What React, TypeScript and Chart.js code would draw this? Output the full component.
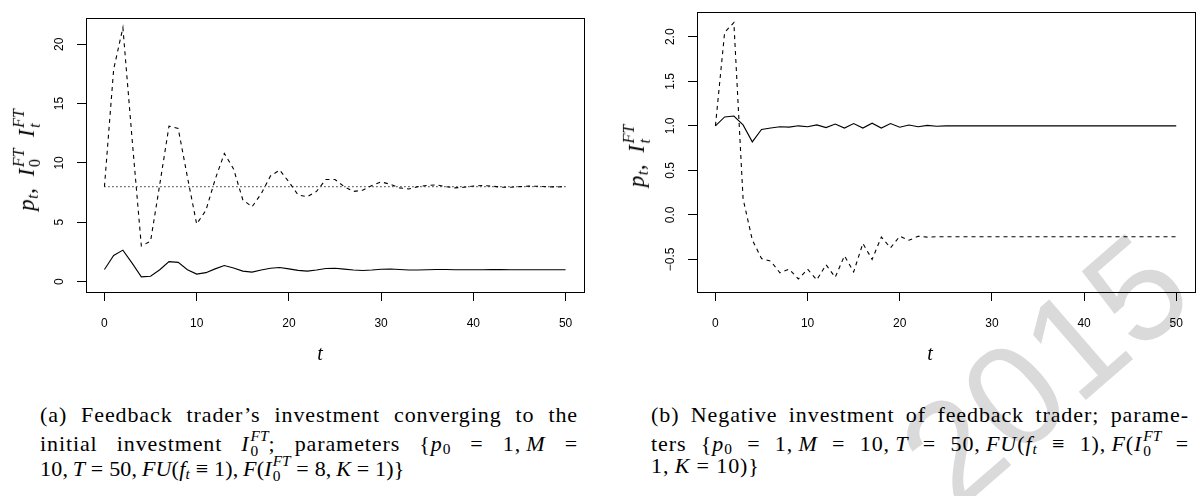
import React, { useEffect, useRef } from 'react';
import Chart from 'chart.js/auto';

// ---------- data ----------
const tValues = [0, 1, 2, 3, 4, 5, 6, 7, 8, 9, 10, 11, 12, 13, 14, 15, 16, 17, 18, 19, 20, 21, 22, 23, 24, 25, 26, 27, 28, 29, 30, 31, 32, 33, 34, 35, 36, 37, 38, 39, 40, 41, 42, 43, 44, 45, 46, 47, 48, 49, 50];

// panel (a): price p_t (solid)
const priceA = [1.02, 2.2, 2.65, 1.55, 0.4, 0.45, 1.0, 1.68, 1.62, 1.0, 0.63, 0.75, 1.07, 1.35, 1.15, 0.88, 0.8, 0.97, 1.12, 1.18, 1.07, 0.94, 0.88, 0.97, 1.1, 1.12, 1.05, 0.97, 0.93, 0.97, 1.04, 1.06, 1.02, 0.98, 0.97, 1.0, 1.02, 1.02, 1.0, 0.99, 0.99, 1.0, 1.01, 1.01, 1.0, 0.99, 1.0, 1.0, 1.0, 1.0, 1.0];
// panel (a): feedback trader investment I_t^FT (dashed)
const investA = [8.0, 17.9, 21.4, 12.0, 3.0, 3.4, 8.2, 13.1, 12.9, 8.8, 4.85, 6.0, 8.6, 10.8, 9.5, 6.9, 6.3, 7.4, 8.9, 9.4, 8.4, 7.3, 7.15, 7.6, 8.6, 8.6, 8.0, 7.6, 7.7, 8.1, 8.4, 8.2, 7.9, 7.8, 8.0, 8.1, 8.15, 8.0, 7.9, 7.95, 8.05, 8.1, 8.05, 7.95, 7.95, 8.0, 8.05, 8.03, 7.98, 7.98, 8.0];
// panel (a): initial investment I_0^FT (dotted)
const initInvestT = [0, 50];
const initInvestA = [8, 8];

// panel (b): price p_t (solid)
const priceB = [1.0, 1.1, 1.11, 1.01, 0.82, 0.96, 0.975, 0.99, 0.985, 1.0, 0.99, 1.01, 0.98, 1.02, 0.975, 1.025, 0.975, 1.03, 0.975, 1.025, 0.985, 1.01, 0.99, 1.005, 0.995, 1.0, 1.0, 1.0, 1.0, 1.0, 1.0, 1.0, 1.0, 1.0, 1.0, 1.0, 1.0, 1.0, 1.0, 1.0, 1.0, 1.0, 1.0, 1.0, 1.0, 1.0, 1.0, 1.0, 1.0, 1.0, 1.0];
// panel (b): feedback trader investment I_t^FT (dashed)
const investB = [1.0, 2.05, 2.16, 0.18, -0.28, -0.49, -0.52, -0.65, -0.61, -0.72, -0.61, -0.73, -0.56, -0.7, -0.46, -0.64, -0.32, -0.5, -0.25, -0.37, -0.24, -0.285, -0.24, -0.25, -0.245, -0.245, -0.245, -0.245, -0.245, -0.245, -0.245, -0.245, -0.245, -0.245, -0.245, -0.245, -0.245, -0.245, -0.245, -0.245, -0.245, -0.245, -0.245, -0.245, -0.245, -0.245, -0.245, -0.245, -0.245, -0.245, -0.245];

const xTicks = [0, 10, 20, 30, 40, 50];
const yTicksA = [0, 5, 10, 15, 20];
const yTicksB = [-0.5, 0, 0.5, 1, 1.5, 2];

// ---------- chart helpers ----------
const TICK_FONT = { family: '"Liberation Sans", Arial, sans-serif', size: 12 };

const boxPlugin = {
  id: 'rbox',
  afterDatasetsDraw(chart: any) {
    const { ctx, chartArea } = chart;
    const l = Math.round(chartArea.left);
    const t = Math.round(chartArea.top);
    const r = Math.round(chartArea.right);
    const b = Math.round(chartArea.bottom);
    ctx.save();
    ctx.strokeStyle = '#000';
    ctx.lineWidth = 1;
    ctx.strokeRect(l + 0.5, t + 0.5, r - l, b - t);
    ctx.restore();
  },
};

function series(xs: number[], ys: number[]) {
  return xs.map((x, i) => ({ x, y: ys[i] }));
}

function lineDs(data: any[], dash: number[]) {
  return {
    data,
    borderColor: '#000',
    borderWidth: 1.1,
    borderDash: dash,
    pointRadius: 0,
    tension: 0,
    fill: false,
  };
}

function makeConfig(datasets: any[], yMin: number, yMax: number, yTicks: number[], yAxisWidth: number, yPad: number, rightPad: number, fmt: (v: number) => string) {
  return {
    type: 'line',
    data: { datasets },
    options: {
      animation: false,
      responsive: false,
      events: [],
      layout: { padding: { top: 5, right: rightPad, left: 0, bottom: 0 } },
      plugins: { legend: { display: false }, tooltip: { enabled: false } },
      scales: {
        x: {
          type: 'linear',
          min: -2,
          max: 52,
          afterBuildTicks: (s: any) => { s.ticks = xTicks.map((v) => ({ value: v })); },
          afterFit: (s: any) => { s.height = 88; },
          ticks: { font: TICK_FONT, color: '#000', padding: 15, maxRotation: 0, autoSkip: false, callback: (v: any) => String(v) },
          grid: { drawOnChartArea: false, drawTicks: true, tickLength: 9, color: '#000', lineWidth: 1 },
          border: { display: false },
        },
        y: {
          type: 'linear',
          min: yMin,
          max: yMax,
          afterBuildTicks: (s: any) => { s.ticks = yTicks.map((v) => ({ value: v })); },
          afterFit: (s: any) => { s.width = yAxisWidth; },
          ticks: { font: TICK_FONT, color: '#000', padding: yPad, minRotation: 90, maxRotation: 90, crossAlign: 'center', autoSkip: false, callback: (v: any) => fmt(Number(v)) },
          grid: { drawOnChartArea: false, drawTicks: true, tickLength: 9, color: '#000', lineWidth: 1 },
          border: { display: false },
        },
      },
    },
    plugins: [boxPlugin],
  };
}

function ChartCanvas({ config, left }: { config: any; left: number }) {
  const ref = useRef<HTMLCanvasElement | null>(null);
  useEffect(() => {
    if (!ref.current) return;
    const chart = new Chart(ref.current, config);
    return () => chart.destroy();
  }, []);
  return <canvas ref={ref} width={598} height={380} style={{ position: 'absolute', left, top: 0, width: 598, height: 380 }} />;
}

// ---------- math text helpers ----------
function SupSub({ sup, sub, subItalic = false }: { sup: string; sub: string; subItalic?: boolean }) {
  return (
    <span style={{ display: 'inline-flex', flexDirection: 'column', fontSize: '0.7em', lineHeight: 1, verticalAlign: '0.62em', marginLeft: 1, letterSpacing: 0 }}>
      <span style={{ fontStyle: 'italic' }}>{sup}</span>
      <span style={{ fontStyle: subItalic ? 'italic' : 'normal' }}>{sub}</span>
    </span>
  );
}
const Sub = ({ children, italic = false }: any) => (
  <sub style={{ fontSize: '0.7em', fontStyle: italic ? 'italic' : 'normal', verticalAlign: '-0.25em', lineHeight: 0 }}>{children}</sub>
);
const M = ({ children }: any) => <span style={{ fontStyle: 'italic' }}>{children}</span>;

const SERIF = '"Liberation Serif", "DejaVu Serif", serif';
const TS = '\u2009'; // thin space (math comma spacing)

const lineStyle = (last: boolean, spacing?: number): any => ({
  textAlign: last ? 'left' : 'justify',
  textAlignLast: last ? 'left' : 'justify',
  whiteSpace: 'nowrap',
  height: 25.5,
  ...(spacing !== undefined ? { letterSpacing: spacing } : {}),
});

export default function App() {
  const cfgA = makeConfig(
    [
      lineDs(series(tValues, priceA), []),
      lineDs(series(tValues, investA), [4, 4]),
      lineDs(series(initInvestT, initInvestA), [1, 3]),
    ],
    -0.88, 22.2, yTicksA, 86, 11, 14, (v) => String(v)
  );
  const cfgB = makeConfig(
    [
      lineDs(series(tValues, priceB), []),
      lineDs(series(tValues, investB), [4, 4]),
    ],
    -0.866, 2.276, yTicksB, 97, 5, 3, (v) => v.toFixed(1).replace('-', '\u2212')
  );

  const yTitle: any = {
    position: 'absolute',
    transform: 'translate(-50%,-50%) rotate(-90deg)',
    whiteSpace: 'nowrap',
    fontFamily: SERIF,
    fontSize: 23,
    fontStyle: 'italic',
    lineHeight: 1,
    wordSpacing: 5,
    letterSpacing: 0.5,
  };
  const xTitle: any = {
    position: 'absolute',
    transform: 'translate(-50%,-50%)',
    fontFamily: SERIF,
    fontSize: 20,
    fontStyle: 'italic',
    lineHeight: 1,
  };
  const caption: any = {
    position: 'absolute',
    top: 402,
    width: 538,
    fontFamily: SERIF,
    fontSize: 22,
    letterSpacing: 0.9,
    lineHeight: '25.5px',
    color: '#000',
  };

  return (
    <div style={{ position: 'absolute', left: 0, top: 0, width: 1198, height: 496, background: '#fff', overflow: 'hidden' }}>
      {/* watermark */}
      <div style={{ position: 'absolute', left: 1045, top: 370, transform: 'translate(-50%,-50%) rotate(-41deg)', fontFamily: '"Liberation Sans", Arial, sans-serif', fontSize: 145, color: '#dadada', lineHeight: 1, whiteSpace: 'nowrap' }}>2015</div>

      <ChartCanvas config={cfgA} left={0} />
      <ChartCanvas config={cfgB} left={600} />

      <div style={{ ...yTitle, left: 27, top: 160 }}>
        p<Sub italic>t</Sub><span style={{ fontStyle: 'normal' }}>,</span> I<SupSub sup="FT" sub="0" /> I<SupSub sup="FT" sub="t" subItalic />
      </div>
      <div style={{ ...yTitle, left: 637, top: 156 }}>
        p<Sub italic>t</Sub><span style={{ fontStyle: 'normal' }}>,</span> I<SupSub sup="FT" sub="t" subItalic />
      </div>
      <div style={{ ...xTitle, left: 320, top: 353 }}>t</div>
      <div style={{ ...xTitle, left: 930, top: 353 }}>t</div>

      <div style={{ ...caption, left: 40 }}>
        <div style={lineStyle(false)}>(a) Feedback trader’s investment converging to the</div>
        <div style={lineStyle(false)}>initial investment <M>I</M><SupSub sup="FT" sub="0" />; parameters {'{'}<M>p</M><Sub>0</Sub> = 1,{TS}<M>M</M> =</div>
        <div style={lineStyle(true, 0.2)}>10,{TS}<M>T</M> = 50,{TS}<M>FU</M>(<M>f</M><Sub italic>t</Sub> ≡ 1),{TS}<M>F</M>(<M>I</M><SupSub sup="FT" sub="0" /> = 8,{TS}<M>K</M> = 1){'}'}</div>
      </div>
      <div style={{ ...caption, left: 651 }}>
        <div style={lineStyle(false)}>(b) Negative investment of feedback trader; parame-</div>
        <div style={lineStyle(false)}>ters {'{'}<M>p</M><Sub>0</Sub> = 1,{TS}<M>M</M> = 10,{TS}<M>T</M> = 50,{TS}<M>FU</M>(<M>f</M><Sub italic>t</Sub> ≡ 1),{TS}<M>F</M>(<M>I</M><SupSub sup="FT" sub="0" /> =</div>
        <div style={lineStyle(true)}>1,{TS}<M>K</M> = 10){'}'}</div>
      </div>
    </div>
  );
}
